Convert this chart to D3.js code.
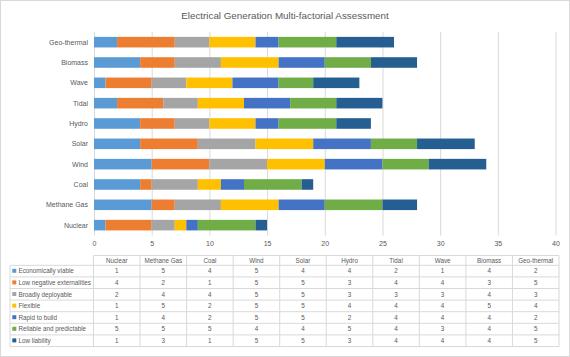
<!DOCTYPE html>
<html><head><meta charset="utf-8">
<script src="https://cdn.jsdelivr.net/npm/d3@7"></script>
<style>body{margin:0;background:#fff}svg{display:block;font-family:"Liberation Sans",Arial,sans-serif}</style>
</head><body>
<svg id="c" width="570" height="357"></svg>
<script>
const title = "Electrical Generation Multi-factorial Assessment";
const categories = ["Nuclear","Methane Gas","Coal","Wind","Solar","Hydro","Tidal","Wave","Biomass","Geo-thermal"];
const seriesNames = ["Economically viable","Low negative externalities","Broadly deployable","Flexible","Rapid to build","Reliable and predictable","Low liability"];
const economicallyViable     = [1,5,4,5,4,4,2,1,4,2];
const lowNegativeExternalities = [4,2,1,5,5,3,4,4,3,5];
const broadlyDeployable      = [2,4,4,5,5,3,3,3,4,3];
const flexible               = [1,5,2,5,5,4,4,4,5,4];
const rapidToBuild           = [1,4,2,5,5,2,4,4,4,2];
const reliableAndPredictable = [5,5,5,4,4,5,4,3,4,5];
const lowLiability           = [1,3,1,5,5,3,4,4,4,5];
const seriesValues = [economicallyViable,lowNegativeExternalities,broadlyDeployable,flexible,rapidToBuild,reliableAndPredictable,lowLiability];
const colors = ["#5B9BD5","#ED7D31","#A5A5A5","#FFC000","#4472C4","#70AD47","#255E91"];
const xTicks = [0,5,10,15,20,25,30,35,40];

const svg = d3.select("#c");
const textColor = "#595959";
svg.append("rect").attr("x",0.5).attr("y",0.5).attr("width",569).attr("height",356)
  .attr("fill","#fff").attr("stroke","#d9d9d9");

svg.append("text").attr("x",285).attr("y",18.5).attr("text-anchor","middle")
  .attr("font-size",9.8).attr("fill",textColor).text(title);

const x = d3.scaleLinear().domain([0,40]).range([94,555.5]);
const y = d3.scaleBand().domain(categories.slice().reverse()).range([32,235.3])
  .paddingInner(0.48).paddingOuter(0.24);

// gridlines
svg.append("g").selectAll("line").data(xTicks).join("line")
  .attr("x1",d=>x(d)+0.5).attr("x2",d=>x(d)+0.5).attr("y1",32).attr("y2",235.5)
  .attr("stroke","#d9d9d9").attr("stroke-width",1);

// stacked data
const rows = categories.map((c,i)=>{
  const o = {cat:c};
  seriesNames.forEach((s,j)=>o[s]=seriesValues[j][i]);
  return o;
});
const stack = d3.stack().keys(seriesNames)(rows);
svg.append("g").selectAll("g").data(stack).join("g")
  .attr("fill",(d,i)=>colors[i])
  .selectAll("rect").data(d=>d).join("rect")
  .attr("x",d=>x(d[0])).attr("width",d=>x(d[1])-x(d[0]))
  .attr("y",d=>y(d.data.cat)).attr("height",y.bandwidth());

// category labels
svg.append("g").selectAll("text").data(categories).join("text")
  .attr("x",88).attr("y",d=>y(d)+y.bandwidth()/2).attr("dy","0.35em")
  .attr("text-anchor","end").attr("font-size",7).attr("fill",textColor).text(d=>d);

// x axis tick labels
const xAxis = d3.axisBottom(x).tickValues(xTicks).tickSize(0).tickPadding(0);
const ax = svg.append("g").attr("transform","translate(0,241)").call(xAxis);
ax.select(".domain").remove();
ax.selectAll("text").attr("font-size",7).attr("fill",textColor).attr("font-family","Liberation Sans, Arial, sans-serif").attr("dy","0.71em");

// data table
const tLeft = 10, tLegEnd = 93.5, tRight = 559;
const colW = (tRight - tLegEnd)/categories.length;
const headTop = 255.5, headH = 9.8, rowH = 11.6;
const rowTop = headTop + headH;
const tbl = svg.append("g");
const gridC = "#d9d9d9";
tbl.append("line").attr("x1",tLegEnd).attr("x2",tRight).attr("y1",headTop).attr("y2",headTop).attr("stroke",gridC);
d3.range(seriesNames.length+1).forEach(i=>{
  const yy = rowTop + i*rowH;
  tbl.append("line").attr("x1",tLeft).attr("x2",tRight).attr("y1",yy).attr("y2",yy).attr("stroke",gridC);
});
tbl.append("line").attr("x1",tLeft).attr("x2",tLeft).attr("y1",rowTop).attr("y2",rowTop+seriesNames.length*rowH).attr("stroke",gridC);
d3.range(categories.length+1).forEach(i=>{
  const xx = tLegEnd + i*colW;
  tbl.append("line").attr("x1",xx).attr("x2",xx).attr("y1",headTop).attr("y2",rowTop+seriesNames.length*rowH).attr("stroke",gridC);
});
tbl.selectAll("text.h").data(categories).join("text").attr("class","h")
  .attr("x",(d,i)=>tLegEnd+(i+0.5)*colW).attr("y",headTop+headH/2).attr("dy","0.35em")
  .attr("text-anchor","middle").attr("font-size",6.3).attr("fill",textColor).text(d=>d);
seriesNames.forEach((s,j)=>{
  const cy = rowTop + (j+0.5)*rowH;
  tbl.append("rect").attr("x",12.3).attr("y",cy-2.3).attr("width",4).attr("height",4).attr("fill",colors[j]);
  tbl.append("text").attr("x",18.5).attr("y",cy).attr("dy","0.35em").attr("font-size",6.3)
    .attr("fill",textColor).text(s);
  tbl.selectAll(null).data(seriesValues[j]).join("text")
    .attr("x",(d,i)=>tLegEnd+(i+0.5)*colW).attr("y",cy).attr("dy","0.35em")
    .attr("text-anchor","middle").attr("font-size",6.3).attr("fill",textColor).text(d=>d);
});
</script>
</body></html>
